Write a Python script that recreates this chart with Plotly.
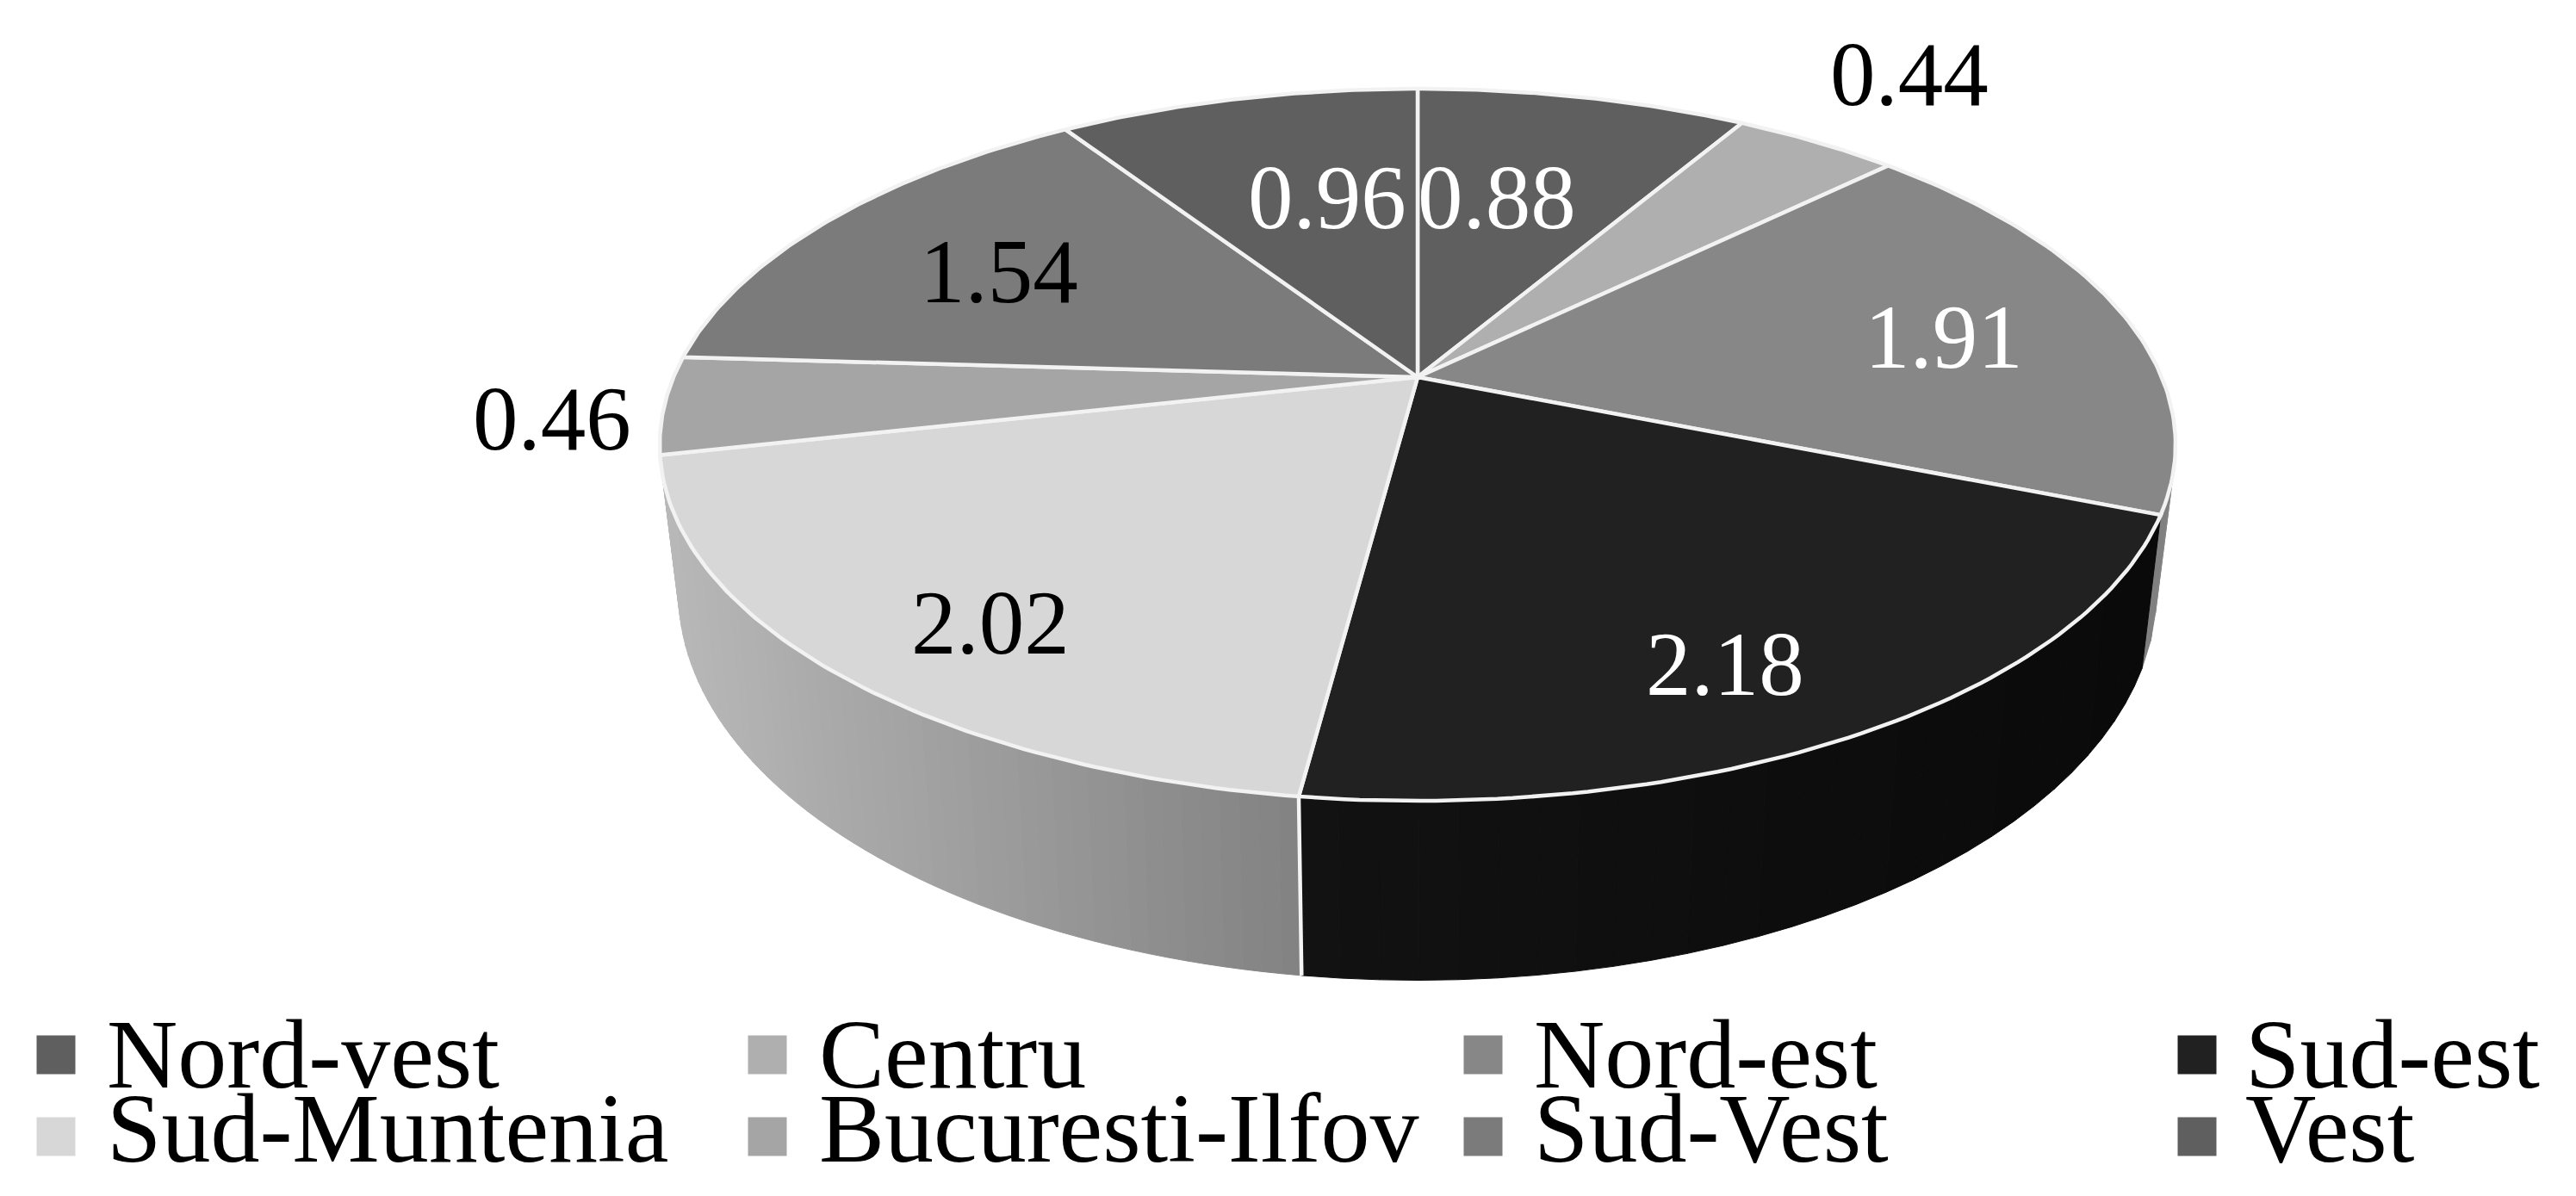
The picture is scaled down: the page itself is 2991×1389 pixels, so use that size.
import numpy as np
import plotly.graph_objects as go

W, H = 2991, 1389
categories = ["Nord-vest", "Centru", "Nord-est", "Sud-est", "Sud-Muntenia", "Bucuresti-Ilfov", "Sud-Vest", "Vest"]
values = [0.88, 0.44, 1.91, 2.18, 2.02, 0.46, 1.54, 0.96]
top_colors = ["#5f5f5f", "#afafaf", "#878787", "#212121", "#d7d7d7", "#a5a5a5", "#7b7b7b", "#5f5f5f"]
# side gradient (left shade, right shade) for slices whose wall is visible
side_shades = {"Nord-est": (0x7a, 0x86), "Sud-est": (0x12, 0x0a), "Sud-Muntenia": (0xb8, 0x82)}
label_colors = ["white", "black", "white", "white", "black", "black", "black", "white"]
label_x = [1738, 2217, 2257, 2003, 1150, 641, 1160, 1541]
label_y = [229, 86, 391, 771, 723, 486, 315, 229]

# projection of the tilted disc
APEX = (1646, 438)
K, A, B = 0.19, 398.6, 864.0
CX, CY, SX, SY, CY_BOTTOM = 1640.0, 515.0, 0.975, 1.09, 686.0


def top_pt(theta):
    d = 1 + K * np.cos(theta)
    return APEX[0] + B * np.sin(theta) / d, APEX[1] - A * np.cos(theta) / d


def bottom_pt(theta):
    x, y = top_pt(theta)
    return CX + SX * (x - CX), CY_BOTTOM + SY * (y - CY)


total = sum(values)
edges = np.cumsum([0] + values) / total * 2 * np.pi
fig = go.Figure()

# side walls, drawn as thin vertical strips to give the gradient
separators = []
for i, name in enumerate(categories):
    if name not in side_shades:
        continue
    a0, a1 = edges[i], edges[i + 1]
    if name == "Nord-est":
        a0 = np.radians(88)
    if name == "Sud-Muntenia":
        a1 = np.radians(264)
    n = 60 if name == "Sud-Muntenia" else 30 if name == "Sud-est" else 6
    th = np.linspace(a0, a1, n + 1)
    xt, yt = top_pt(th)
    xb, yb = bottom_pt(th)
    x_lo, x_hi = xt.min(), xt.max()
    for j in range(n):
        frac = ((xt[j] + xt[j + 1]) / 2 - x_lo) / (x_hi - x_lo)
        g = int(round(side_shades[name][0] + frac * (side_shades[name][1] - side_shades[name][0])))
        col = f"rgb({g},{g},{g})"
        fig.add_trace(go.Scatter(
            x=[xt[j], xt[j + 1], xb[j + 1], xb[j], xt[j]],
            y=[yt[j], yt[j + 1], yb[j + 1], yb[j], yt[j]],
            mode="lines", fill="toself", fillcolor=col,
            line=dict(color=col, width=1), showlegend=False, hoverinfo="skip"))
    if name == "Sud-est":
        separators.append(edges[i + 1])

# vertical separator between the two front walls
for a in separators:
    xt, yt = top_pt(a)
    xb, yb = bottom_pt(a)
    fig.add_trace(go.Scatter(
        x=[xt, xb], y=[yt, yb], mode="lines",
        line=dict(color="#f4f4f4", width=4.5), showlegend=False, hoverinfo="skip"))

# top face slices
for i, name in enumerate(categories):
    th = np.linspace(edges[i], edges[i + 1], 80)
    xs, ys = top_pt(th)
    fig.add_trace(go.Scatter(
        x=np.r_[APEX[0], xs, APEX[0]], y=np.r_[APEX[1], ys, APEX[1]],
        mode="lines", fill="toself", fillcolor=top_colors[i], name=name,
        line=dict(color="#f2f2f2", width=4.5), showlegend=False,
        hovertemplate=f"{name}: {values[i]:.2f}<extra></extra>"))

# value labels
annotations = [
    dict(x=lx, y=ly, text=f"{v:.2f}", showarrow=False, xanchor="center", yanchor="middle",
         font=dict(family="Liberation Serif", size=105, color=c))
    for v, c, lx, ly in zip(values, label_colors, label_x, label_y)
]

# legend: two rows of four equally spaced entries
col_marker = [65, 891, 1722, 2551]
col_text = [122, 949, 1779, 2605]
row_marker = [1225, 1320]
row_text = [1224, 1310]
for i, name in enumerate(categories):
    r, c = divmod(i, 4)
    fig.add_trace(go.Scatter(
        x=[col_marker[c]], y=[row_marker[r]], mode="markers",
        marker=dict(symbol="square", size=45, color=top_colors[i], line=dict(width=0)),
        name=name, showlegend=False, hoverinfo="skip"))
    annotations.append(dict(
        x=col_text[c], y=row_text[r], text=name, showarrow=False, xanchor="left", yanchor="middle",
        font=dict(family="Liberation Serif", size=114, color="black")))

fig.update_layout(
    width=W, height=H, margin=dict(l=0, r=0, t=0, b=0),
    paper_bgcolor="white", plot_bgcolor="white", showlegend=False,
    xaxis=dict(range=[0, W], visible=False, fixedrange=True),
    yaxis=dict(range=[H, 0], visible=False, fixedrange=True),
    annotations=annotations,
)
fig.write_html("out.html", config={"displayModeBar": False},
               post_script="document.body.style.margin='0';document.body.style.overflow='hidden';")
